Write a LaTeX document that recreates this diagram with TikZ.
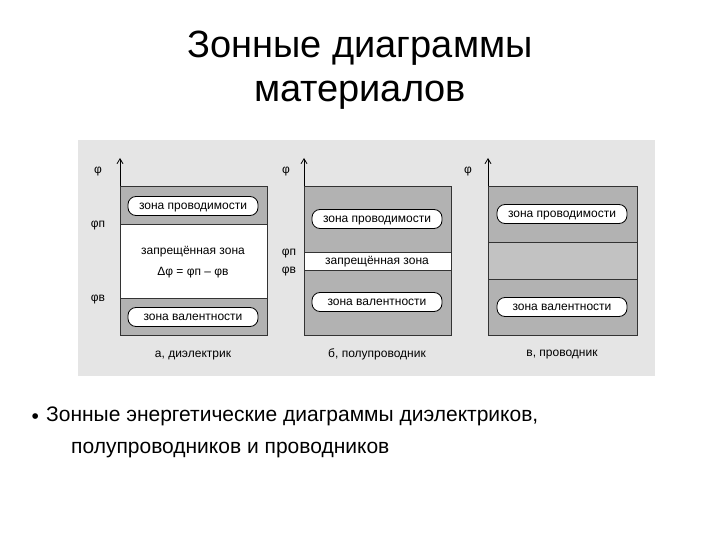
\documentclass[tikz,border=0pt]{standalone}
\usepackage{fontspec}
\setmainfont{Liberation Sans}
\usetikzlibrary{arrows.meta}
\begin{document}
\begin{tikzpicture}[x=1pt,y=-1pt,
  band/.style={fill=black!30,draw=black!80,line width=0.8pt},
  pill/.style={draw,fill=white,rounded corners=8pt,minimum width=130pt,minimum height=19pt,font=\fontsize{12}{13}\selectfont,inner sep=1pt,line width=0.8pt,text height=8.5pt,text depth=1.5pt},
  lbl/.style={font=\fontsize{12}{13}\selectfont,inner sep=0pt,text height=8.5pt,text depth=1.5pt},
  axis/.style={-{Straight Barb[length=5pt,width=6pt]},line width=0.8pt}]
\useasboundingbox (0,0) rectangle (720,540);
\fill[white] (0,0) rectangle (720,540);
\node[font=\fontsize{38}{40}\selectfont] (t1) at (360,48) {Зонные диаграммы};
\node[font=\fontsize{38}{40}\selectfont] (t2) at (360,95) {материалов};
\fill[black!10] (78,140) rectangle (655,376);
% a
\draw[band] (120,186) rectangle (267,335);
\fill[white] (120,224) rectangle (267,298);
\draw[black!80,line width=0.8pt] (120,224) -- (267,224) (120,298) -- (267,298) (120,186) rectangle (267,335);
\node[pill] (ac) at (193,206) {зона проводимости};
\node[pill] (av) at (193,317) {зона валентности};
\node[lbl] (ag) at (193,251) {запрещённая зона};
\node[lbl] (ad) at (193,272) {Δφ = φп – φв};
\coordinate (a0) at (120,186); \coordinate (a1) at (120,158);
\draw[axis] (a0) -- (a1);
\node[lbl] (aphi) at (98,170) {φ};
\node[lbl] (ap) at (98,224) {φп};
\node[lbl] (ab) at (98,298) {φв};
\node[lbl] (acap) at (193,354) {а, диэлектрик};
% b
\draw[band] (304,186) rectangle (451,335);
\fill[white] (304,252) rectangle (451,270);
\draw[black!80,line width=0.8pt] (304,252) -- (451,252) (304,270) -- (451,270) (304,186) rectangle (451,335);
\node[pill] (bc) at (377,219) {зона проводимости};
\node[pill] (bv) at (377,302) {зона валентности};
\node[lbl] (bg) at (377,261) {запрещённая зона};
\coordinate (b0) at (304,186); \coordinate (b1) at (304,158);
\draw[axis] (b0) -- (b1);
\node[lbl] (bphi) at (286,170) {φ};
\node[lbl] (bp) at (289,252) {φп};
\node[lbl] (bb) at (289,270) {φв};
\node[lbl] (bcap) at (377,354) {б, полупроводник};
% c
\draw[band] (488,186) rectangle (637,335);
\fill[black!24] (488,242) rectangle (637,279);
\draw[black!80,line width=0.8pt] (488,242) -- (637,242) (488,279) -- (637,279) (488,186) rectangle (637,335);
\node[pill] (cc) at (562,214) {зона проводимости};
\node[pill] (cv) at (562,307) {зона валентности};
\coordinate (c0) at (488,186); \coordinate (c1) at (488,158);
\draw[axis] (c0) -- (c1);
\node[lbl] (cphi) at (468,170) {φ};
\node[lbl] (ccap) at (562,353) {в, проводник};
% bullet
\node[font=\fontsize{21}{24}\selectfont,anchor=west] (bul) at (28,419) {•};
\node[font=\fontsize{21}{32}\selectfont,anchor=north west,align=left,inner sep=0pt] (txt) at (46,407) {Зонные энергетические диаграммы диэлектриков,\\\hspace*{25pt}полупроводников и проводников};
\end{tikzpicture}
\end{document}
